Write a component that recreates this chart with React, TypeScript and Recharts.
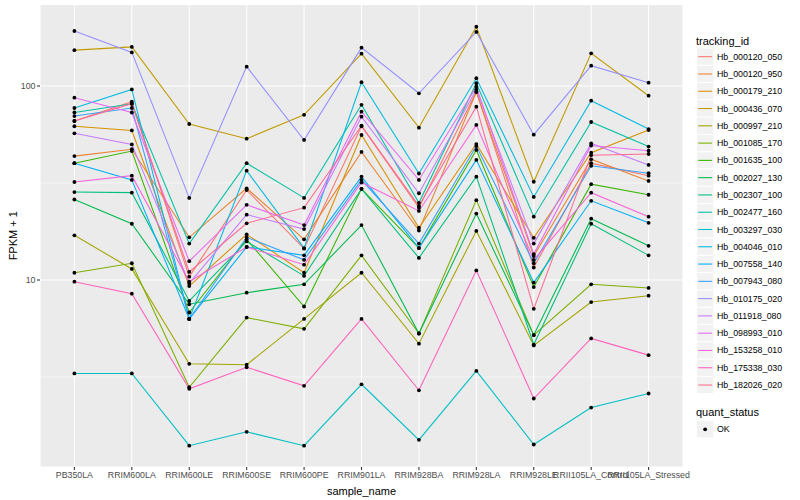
import React from 'react';
import { LineChart, Line, XAxis, YAxis, CartesianGrid, ReferenceLine, Label } from 'recharts';

const FONT = '"Liberation Sans", Arial, Helvetica, sans-serif';

const samples = [
  'PB350LA', 'RRIM600LA', 'RRIM600LE', 'RRIM600SE', 'RRIM600PE', 'RRIM901LA',
  'RRIM928BA', 'RRIM928LA', 'RRIM928LE', 'RRII105LA_Control', 'RRII105LA_Stressed',
];

const trackingIds = [
  'Hb_000120_050', 'Hb_000120_950', 'Hb_000179_210', 'Hb_000436_070', 'Hb_000997_210',
  'Hb_001085_170', 'Hb_001635_100', 'Hb_002027_130', 'Hb_002307_100', 'Hb_002477_160',
  'Hb_003297_030', 'Hb_004046_010', 'Hb_007558_140', 'Hb_007943_080', 'Hb_010175_020',
  'Hb_011918_080', 'Hb_098993_010', 'Hb_153258_010', 'Hb_175338_030', 'Hb_182026_020',
];

// FPKM + 1 per sample, in the order of `samples`
const hb000120_050 = [66, 83, 10.4, 29.1, 14.5, 62, 23.6, 93.5, 11.6, 40, 34.5];
const hb000120_950 = [43.5, 47.2, 16.6, 29.7, 16.2, 45.7, 18.0, 93, 13.3, 41.9, 32.4];
const hb000179_210 = [62, 59, 9.3, 17.2, 10.9, 55.9, 18.6, 50.2, 16.5, 45.3, 59.3];
const hb000436_070 = [153, 159, 63.7, 53.5, 71, 146.8, 61, 202, 32.1, 147.3, 89.1];
const hb000997_210 = [17, 11.4, 3.7, 3.66, 6.3, 10.9, 4.7, 17.9, 4.6, 7.7, 8.3];
const hb001085_170 = [10.9, 12.2, 2.8, 6.4, 5.6, 13.4, 5.3, 25.8, 5.2, 9.5, 9.1];
const hb001635_100 = [40, 46.2, 6.8, 16.2, 7.3, 29.5, 14.6, 46.8, 9.2, 31.2, 27.5];
const hb002027_130 = [26, 19.5, 7.5, 8.6, 9.5, 19.2, 5.3, 22, 5.2, 20.7, 15];
const hb002307_100 = [28.4, 28.2, 7.8, 15.8, 10.5, 29.5, 13.0, 34.1, 4.65, 19.5, 13.4];
const hb002477_160 = [73, 81, 15.4, 40, 26.5, 80, 25, 103.3, 21.2, 65.2, 48.7];
const hb003297_030 = [3.3, 3.3, 1.4, 1.65, 1.4, 2.9, 1.5, 3.4, 1.42, 2.2, 2.6];
const hb004046_010 = [77, 96, 6.3, 36.6, 14.6, 104.5, 35.4, 109.6, 26.8, 84, 60];
const hb007558_140 = [40, 32.8, 6.3, 14.8, 13.4, 34.1, 14.6, 41.6, 9.7, 25.6, 19.7];
const hb007943_080 = [70, 77, 6.3, 16.6, 12.7, 32.8, 15.4, 49, 12.2, 38.8, 35.5];
const hb010175_020 = [192, 149, 26.5, 125.8, 52.7, 157.6, 91.7, 190, 56.1, 127.3, 104];
const hb011918_080 = [57, 50, 9.6, 21.7, 18.3, 69.5, 28, 96, 15.4, 50.6, 39.2];
const hb098993_010 = [87, 73, 12.5, 24.4, 19.2, 73.7, 32.8, 99.2, 13.6, 49.3, 46.4];
const hb153258_010 = [32, 34.5, 9.8, 14.8, 12.0, 31.8, 22.7, 63, 12.7, 28.2, 21.2];
const hb175338_030 = [9.8, 8.5, 2.75, 3.55, 2.85, 6.3, 2.7, 11.2, 2.45, 5.0, 4.1];
const hb182026_020 = [66, 81, 11.0, 19.6, 23.6, 62.4, 24.1, 78.2, 7.1, 44, 44.6];

const seriesValues = [
  hb000120_050, hb000120_950, hb000179_210, hb000436_070, hb000997_210,
  hb001085_170, hb001635_100, hb002027_130, hb002307_100, hb002477_160,
  hb003297_030, hb004046_010, hb007558_140, hb007943_080, hb010175_020,
  hb011918_080, hb098993_010, hb153258_010, hb175338_030, hb182026_020,
];

const yTicks = [10, 100];
const yMinorTicks = [3.1623, 31.623];
const quantStatus = ['OK'];

const palette = [
  '#F8766D', '#EA8331', '#D89000', '#C09B00', '#A3A500', '#7CAE00', '#39B600',
  '#00BB4E', '#00BF7D', '#00C1A3', '#00BFC4', '#00BAE0', '#00B0F6', '#35A2FF',
  '#9590FF', '#C77CFF', '#E76BF3', '#FA62DB', '#FF62BC', '#FF6C91',
];

const data = samples.map((s, i) => {
  const row: Record<string, any> = { sample: s };
  trackingIds.forEach((id, j) => {
    row[id] = seriesValues[j][i];
  });
  return row;
});

const KEY = 17.28;

function LegendOverlay() {
  const x0 = 696.5;
  const firstCy = 56.7;
  return (
    <svg width={800} height={500} style={{ position: 'absolute', left: 0, top: 0, pointerEvents: 'none' }}>
      <text x={696} y={40.7} fontSize={11} fontFamily={FONT} fill="#000" dominantBaseline="central">tracking_id</text>
      {trackingIds.map((id, i) => {
        const cy = firstCy + i * KEY;
        return (
          <g key={id}>
            <rect x={x0} y={cy - KEY / 2} width={KEY} height={KEY} fill="#F2F2F2" stroke="#FFFFFF" strokeWidth={1} />
            <line x1={x0 + 1.7} x2={x0 + KEY - 1.7} y1={cy} y2={cy} stroke={palette[i]} strokeWidth={1.07} />
            <text x={717} y={cy} fontSize={8.8} fontFamily={FONT} fill="#000" dominantBaseline="central">{id}</text>
          </g>
        );
      })}
      <text x={696} y={412.3} fontSize={11} fontFamily={FONT} fill="#000" dominantBaseline="central">quant_status</text>
      {quantStatus.map((q, i) => {
        const cy = 429.3 + i * KEY;
        return (
          <g key={q}>
            <rect x={x0} y={cy - KEY / 2} width={KEY} height={KEY} fill="#F2F2F2" stroke="#FFFFFF" strokeWidth={1} />
            <circle cx={x0 + KEY / 2} cy={cy} r={1.9} fill="#000" />
            <text x={717} y={cy} fontSize={8.8} fontFamily={FONT} fill="#000" dominantBaseline="central">{q}</text>
          </g>
        );
      })}
    </svg>
  );
}

export default function App() {
  return (
    <div style={{ position: 'absolute', left: 0, top: 0, width: 800, height: 500, background: '#FFFFFF', fontFamily: FONT }}>
      <LineChart width={800} height={500} data={data} margin={{ top: 4.5, right: 117, bottom: 0, left: 8 }}>
        <CartesianGrid fill="#EBEBEB" fillOpacity={1} stroke="#FFFFFF" strokeWidth={1.07} />
        {yMinorTicks.map((v) => (
          <ReferenceLine key={v} y={v} stroke="#FFFFFF" strokeWidth={0.53} />
        ))}
        <XAxis
          dataKey="sample"
          interval={0}
          padding={{ left: 34.4, right: 34.4 }}
          height={33}
          tickSize={3}
          tickMargin={1.5}
          axisLine={false}
          tick={{ fill: '#4D4D4D', fontSize: 8.8, fontFamily: FONT }}
          tickLine={{ stroke: '#333333', strokeWidth: 1.07 }}
        >
          <Label value="sample_name" position="insideBottom" offset={5} style={{ fontSize: 11, fill: '#000', fontFamily: FONT }} />
        </XAxis>
        <YAxis
          scale="log"
          domain={[1.087, 263]}
          allowDataOverflow
          ticks={yTicks}
          width={32}
          tickSize={3}
          tickMargin={1.5}
          axisLine={false}
          tick={{ fill: '#4D4D4D', fontSize: 8.8, fontFamily: FONT }}
          tickLine={{ stroke: '#333333', strokeWidth: 1.07 }}
        >
          <Label value="FPKM + 1" angle={-90} position="insideLeft" offset={5} style={{ fontSize: 11, fill: '#000', fontFamily: FONT, textAnchor: 'middle' }} />
        </YAxis>
        {trackingIds.map((id, i) => (
          <Line
            key={'l' + id}
            dataKey={id}
            type="linear"
            stroke={palette[i]}
            strokeWidth={1.07}
            dot={false}
            activeDot={false}
            isAnimationActive={false}
          />
        ))}
        {trackingIds.map((id) => (
          <Line
            key={'p' + id}
            dataKey={id}
            type="linear"
            stroke="none"
            dot={{ r: 1.9, fill: '#000000', stroke: 'none', strokeWidth: 0 }}
            activeDot={false}
            legendType="none"
            isAnimationActive={false}
          />
        ))}
      </LineChart>
      <LegendOverlay />
    </div>
  );
}
